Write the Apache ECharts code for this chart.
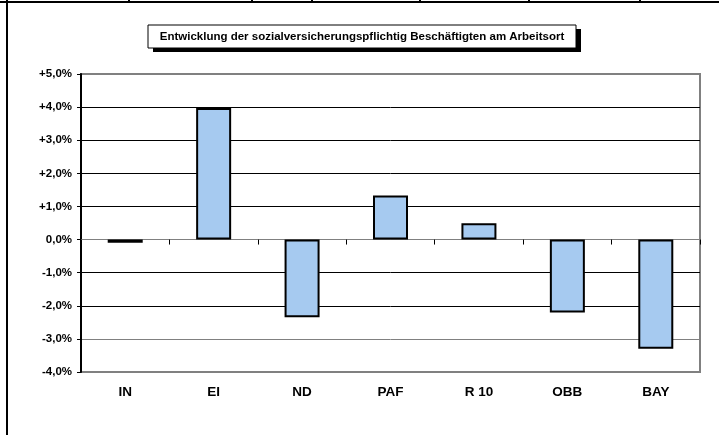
<!DOCTYPE html>
<html>
<head>
<meta charset="utf-8">
<script src="https://cdn.jsdelivr.net/npm/echarts@6/dist/echarts.min.js"></script>
<style>
  html, body { margin: 0; padding: 0; background: #fff; }
  #main { width: 719px; height: 435px; }
</style>
</head>
<body>
<div id="main"></div>
<script>
// Daten
var kreise = ['IN', 'EI', 'ND', 'PAF', 'R 10', 'OBB', 'BAY'];
var veraenderung = [-0.1, 3.97, -2.35, 1.33, 0.49, -2.2, -3.3];
var titel = 'Entwicklung der sozialversicherungspflichtig Beschäftigten am Arbeitsort';
var yMin = -4, yMax = 5, yStep = 1;

var myChart = echarts.init(document.getElementById('main'));

function prozent(v) {
    var s = Math.abs(v).toFixed(1).replace('.', ',') + '%';
    if (v > 0) return '+' + s;
    if (v < 0) return '-' + s;
    return s;
}

var option = {
    animation: false,
    backgroundColor: '#fff',
    textStyle: { fontFamily: 'Liberation Sans, Arial, sans-serif' },
    grid: {
        left: 81, right: 19, top: 74, bottom: 63,
        show: true, borderColor: '#808080', borderWidth: 2
    },
    xAxis: [{
        type: 'category',
        data: kreise,
        position: 'bottom',
        axisLine: { show: false, onZero: false },
        axisTick: { show: false },
        axisLabel: {
            color: '#000', fontWeight: 'bold', fontSize: 13.5, margin: 13
        }
    }, {
        type: 'category',
        data: kreise,
        position: 'top',
        axisLine: { onZero: true, lineStyle: { color: '#808080', width: 1 } },
        axisTick: { show: true, inside: true, length: 5, lineStyle: { color: '#000', width: 1 } },
        axisLabel: { show: false }
    }],
    yAxis: {
        type: 'value',
        min: yMin, max: yMax, interval: yStep,
        axisLine: { show: true, lineStyle: { color: '#000', width: 2 } },
        axisTick: { show: true, length: 4, lineStyle: { color: '#000' } },
        axisLabel: {
            color: '#000', fontWeight: 'bold', fontSize: 11.5, margin: 9,
            formatter: prozent
        },
        splitLine: {
            lineStyle: {
                color: ['#808080', '#808080', '#000', '#000', '#808080',
                        '#000', '#000', '#000', '#000', '#808080'],
                width: 1
            }
        }
    },
    series: [{
        name: 'Veränderung',
        type: 'bar',
        xAxisIndex: 0,
        data: veraenderung,
        barWidth: 35,
        itemStyle: { color: '#a6caf0', borderColor: '#000', borderWidth: 2 }
    }],
    graphic: [
        // Rahmen oben und links
        { type: 'line', shape: { x1: 0, y1: 2, x2: 719, y2: 2 }, style: { stroke: '#000', lineWidth: 2 } },
        { type: 'line', shape: { x1: 7, y1: 0, x2: 7, y2: 435 }, style: { stroke: '#000', lineWidth: 2 } },
        { type: 'line', shape: { x1: 129, y1: 0, x2: 129, y2: 2 }, style: { stroke: '#000', lineWidth: 2 } },
        { type: 'line', shape: { x1: 252, y1: 0, x2: 252, y2: 2 }, style: { stroke: '#000', lineWidth: 2 } },
        { type: 'line', shape: { x1: 312, y1: 0, x2: 312, y2: 2 }, style: { stroke: '#000', lineWidth: 2 } },
        { type: 'line', shape: { x1: 420, y1: 0, x2: 420, y2: 2 }, style: { stroke: '#000', lineWidth: 2 } },
        { type: 'line', shape: { x1: 529, y1: 0, x2: 529, y2: 2 }, style: { stroke: '#000', lineWidth: 2 } },
        { type: 'line', shape: { x1: 640, y1: 0, x2: 640, y2: 2 }, style: { stroke: '#000', lineWidth: 2 } },
        // Titelkasten mit Schatten
        { type: 'rect', shape: { x: 153, y: 29, width: 428, height: 23 }, style: { fill: '#000' } },
        { type: 'rect', shape: { x: 148, y: 25, width: 428, height: 23 }, style: { fill: '#fff', stroke: '#000', lineWidth: 1 } },
        {
            type: 'text', x: 362, y: 37,
            style: {
                text: titel, fill: '#000', font: 'bold 11.5px Liberation Sans, Arial, sans-serif',
                align: 'center', verticalAlign: 'middle'
            }
        }
    ]
};

myChart.setOption(option);
</script>
</body>
</html>
